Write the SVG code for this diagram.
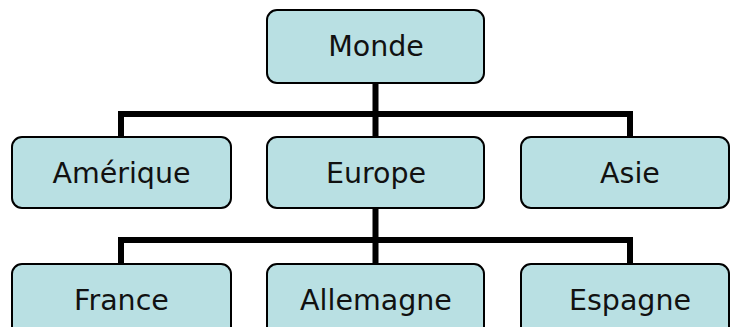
<svg xmlns="http://www.w3.org/2000/svg" width="731" height="327" viewBox="0 0 731 327">
<style>
.box{fill:#b9e0e3;stroke:#000;stroke-width:2}
.lbl{font-family:"DejaVu Sans",Verdana,sans-serif;font-size:28.5px;fill:#111;text-anchor:middle}
.con{fill:none;stroke:#000;stroke-width:6;stroke-linejoin:miter}
</style>
<rect width="731" height="327" fill="#fff"/>
<g id="connectors">
<path class="con" d="M375.5,83 V137 M121,137 V114 H630 V137"/>
<path class="con" d="M375.5,208 V264 M121,264 V240 H630 V264"/>
</g>
<g id="monde"><rect class="box" x="267" y="10" width="217" height="73" rx="10"/><text class="lbl" x="376" y="56">Monde</text></g>
<g id="amerique"><rect class="box" x="12" y="137" width="219" height="71" rx="10"/><text class="lbl" x="121.5" y="183">Amérique</text></g>
<g id="europe"><rect class="box" x="267" y="137" width="217" height="71" rx="10"/><text class="lbl" x="376" y="183">Europe</text></g>
<g id="asie"><rect class="box" x="521" y="137" width="208" height="71" rx="10"/><text class="lbl" x="630" y="183">Asie</text></g>
<g id="france"><rect class="box" x="12" y="264" width="219" height="72" rx="10"/><text class="lbl" x="121.5" y="310">France</text></g>
<g id="allemagne"><rect class="box" x="267" y="264" width="217" height="72" rx="10"/><text class="lbl" x="376" y="310">Allemagne</text></g>
<g id="espagne"><rect class="box" x="521" y="264" width="208" height="72" rx="10"/><text class="lbl" x="630" y="310">Espagne</text></g>
</svg>
